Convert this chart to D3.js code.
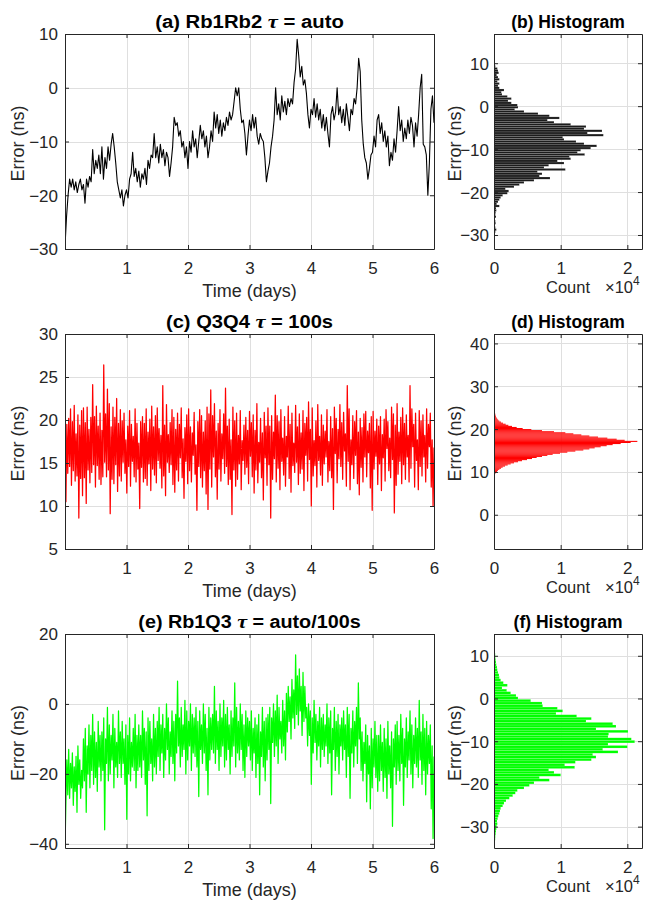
<!DOCTYPE html>
<html>
<head>
<meta charset="utf-8">
<script src="https://cdn.jsdelivr.net/npm/d3@7"></script>
<style>
  body { margin: 0; background: #fff; }
  svg { display: block; }
  text { font-family: "Liberation Sans", Arial, Helvetica, sans-serif; white-space: pre; }
</style>
</head>
<body>
<svg id="fig" width="645" height="903"></svg>
<script>
// ---------------- data ----------------
// Rb1Rb2 time error (ns), one sample every 0.025 days
const rb1rb2Step = 0.025;
const rb1rb2 = [
  -29.5,-24,-20,-17,-18.5,-17,-19,-17.5,-19.5,-18,-17,-19,-18,-21.5,-17,-18.5,-16.5,-17.5,-11.5,-16,
  -13.5,-15,-12.5,-16,-11,-17,-13,-15,-11,-13.5,-10.5,-8.5,-11,-14,-17.5,-19,-20.5,-19,-22,-20,
  -19,-20.5,-17,-16,-12,-16.5,-15,-17.5,-15.5,-18.5,-16,-17,-15,-18,-13.5,-15,-12.5,-13,-8.5,-13,
  -11,-14,-10.5,-13,-11.5,-14.5,-12,-13,-16.5,-14,-11,-5.5,-7,-6.5,-9,-8,-11,-10,-13,-11,
  -15,-10,-12,-8,-11,-9.5,-13,-10,-7,-9.5,-8,-11,-9,-13,-11,-8,-10,-4.5,-7.5,-5,
  -8.5,-6,-9,-6.5,-8,-5.5,-7,-4.5,-6,-5,-2.5,0,-1.5,0,-4,-6.5,-6,-8.5,-12.5,-9,
  -6,-8,-5,-7.5,-5.5,-9,-10.5,-8.5,-9.5,-10,-13,-17.5,-15.5,-14,-11,-9,-6,0,-5,-3,
  -6,-1.5,-4.5,-2.5,-5,-2,-3.5,-2,-3,1,3.5,9,6,2,4,0.5,1.5,-1,-5,-7.5,
  -4,-5,-2,-5.5,-3,-6,-4,-7.5,-5,-8,-5.5,-8.5,-11,-5,-3.5,-6,-4.5,0,-5,-3.5,
  -6.5,-4,-7,-3,-5.5,-8,-4,-5,-2,-3,0,5.5,3,-6,-10.5,-13,-14,-17,-15,-12.5,
  -12,-9,-11,-6,-5,-8.5,-6.5,-10,-8,-11,-9,-14.5,-12,-13.5,-9.5,-12,-8,-3.5,-8,-6,
  -10,-7.5,-9.5,-6,-8.5,-5.5,-7,-11,-6.5,-9,-5,0,2.5,-10.5,-11,-12.5,-20,-14,-4,-1.5,
  -6.5
];

// Q3Q4 time error (ns), one sample every 0.015 days
const q3q4Step = 0.015;
const q3q4 = [
  18.5,10.5,19.5,13.8,20.2,14.6,21.3,12.4,19.8,14.1,21.7,12.9,18.4,13.5,20.6,8.6,19.4,13.2,21.1,11.2,
  21.4,13.3,19.7,10.3,21.5,14.2,18.9,12.7,20.3,13.9,24.1,14.8,20.4,12.2,21.6,14.7,19.3,13.1,20.8,12.5,
  18.8,13.4,26.4,15.1,20.7,13.4,23.6,14.2,21.9,9.1,19.2,13.1,21.5,12.6,20.3,14.8,22.5,11.7,19.6,13.5,
  21.2,12.9,19.9,15.1,20.8,13.8,17.7,11.5,19.3,14.6,21.1,12.3,19.5,15.2,18.1,13.4,21.3,12.8,19.6,14.3,
  17.3,9.7,19.8,14.5,20.4,12.8,19.6,13.2,21.3,12.4,18.6,14.9,20.1,11.8,21.6,14.3,19.2,13.6,20.5,12.7,
  21.4,15.3,19.0,14.4,18.2,12.1,24.0,13.5,19.4,11.2,21.8,15.1,18.3,13.9,19.7,14.8,21.2,12.5,20.3,11.6,
  18.9,14.2,20.8,12.9,19.5,15.6,21.4,13.3,17.8,10.9,19.1,15.2,20.6,12.6,21.3,14.1,19.2,12.8,18.5,15.9,
  20.9,13.7,17.1,9.5,19.8,14.6,21.2,13.3,20.5,12.2,18.6,14.1,19.9,11.4,21.5,9.6,20.7,14.3,23.5,12.2,
  20.5,15.7,21.9,13.4,18.7,10.8,19.6,14.3,21.2,12.9,18.4,15.5,20.7,13.8,23.7,14.6,19.3,12.5,20.1,13.1,
  17.7,9.0,21.5,14.2,19.9,12.3,20.8,13.1,18.2,14.9,21.1,11.9,17.6,15.3,19.4,13.7,20.3,14.5,18.8,12.6,
  21.0,15.8,19.7,13.4,20.6,11.5,18.8,14.2,21.9,12.7,17.4,15.1,20.2,13.3,18.5,10.7,20.9,15.6,19.3,12.4,
  21.4,14.8,19.3,8.6,20.5,13.1,18.6,15.5,22.9,12.8,20.5,14.4,19.8,11.9,21.2,15.2,17.9,13.6,20.4,12.3,
  18.1,15.7,21.6,13.2,19.5,11.6,20.8,14.7,17.3,13.9,21.7,15.1,19.2,12.5,20.7,13.8,18.5,14.3,21.1,11.8,
  19.6,15.9,20.3,12.9,22.1,15.4,18.9,10.0,21.4,13.5,17.6,14.7,19.9,12.2,21.8,15.3,18.1,13.6,20.6,12.4,
  19.4,14.9,18.7,15.7,21.2,12.8,17.5,14.1,20.4,13.3,19.0,9.6,21.5,16.1,20.2,12.7,18.9,15.5,21.8,14.6,
  19.7,13.1,20.9,16.4,18.4,12.3,24.0,15.2,21.3,11.9,17.7,14.8,20.5,13.2,19.8,15.9,21.1,12.6,18.6,11.3,
  20.2,14.5,19.1,12.8,20.7,15.7,21.0,13.4,18.7,16.2,19.6,12.1,20.4,9.5,21.0,14.3,18.7,15.8,20.1,12.5,
  19.3,14.9,20.4,11.8,18.3,15.6,20.1,12.9,21.2,16.7,19.8,14.1,17.9,13.3,21.5,15.4,20.7,9.2,19.4,12.4,
  21.9,13.7,18.6,15.2,20.3,12.6,21.4,14.8,19.6,13.1,20.6,15.7,18.2,12.8,24.0,14.4,21.3,16.9,19.5,12.2,
  20.8,15.3,17.7,11.9,21.1,14.6,19.9,13.5,20.6,15.7,18.2,12.8,21.3,14.4,19.5,16.9,20.8,12.2,17.7,10.0,
  16.8
];

// Rb1Q3 time error (ns), one sample every 0.015 days
const rb1q3Step = 0.015;
const rb1q3 = [
  -41,-28,-16,-26,-13,-27,-17,-24,-14,-29,-18,-25,-15,-31,-12,-23,-16,-27,-19,-24,
  -10,-22,-7,-31,-12,-20,-6,-24,-9,-19,-3,-23,-8,-21,-11,-25,-5,-18,-9,-22,
  -8,-19,-4,-36,-10,-17,-1,-22,-6,-20,-9,-16,-3,-24,-7,-18,-11,-21,-2,-17,
  -8,-21,-5,-17,-10,-23,-6,-33,-9,-20,-4,-22,-11,-18,-7,-19,-3,-24,-9,-19,
  -6,-18,-9,-21,-2,-16,-7,-23,-8,-32,-4,-19,-5,-17,-10,-22,-3,-18,-7,-20,
  -5,-15,-1,-19,-6,-14,-3,-21,-7,-16,0,-13,-4,-20,-8,-15,-2,-17,-5,-22,
  -3,-14,6.5,-12,-4,-18,-1,-15,-6,-13,1,-20,-2,-16,-5,-12,0,-19,-3,-14,
  -4,-15,-1,-18,-5,-26.5,-2,-13,-6,-17,0,-14,-3,-19,-7,-26,-1,-16,-4,-13,
  -3,-14,5,-17,-2,-13,-5,-19,0,-15,-4,-12,1,-18,-3,-16,-1,-13,-6,-20,
  -2,-15,-4,-12,6,-18,-1,-14,-5,-16,0,-13,-3,-19,-6,-21,-2,-15,-4,-12,
  -5,-16,-2,-19,-7,-14,-4,-21,-6,-17,-3,-26,-8,-15,-1,-18,-5,-22,-4,-16,
  -3,-13,-1,-28.5,-4,-11,0,-15,-2,-12,2.5,-17,-1,-10,-5,-14,1,-12,-2,-16,
  3,-8,5,-5,2,-10,7,-4,4,-7,14,-3,8,-6,10,-2,5,-9,9,-5,
  5,-4,-1,-12,0,-9,-2,-23,-4,-14,1,-11,-3,-16,-5,-12,-1,-18,-4,-13,
  -3,-15,-6,-12,0,-17,-4,-14,-2,-26,-7,-13,-1,-19,-5,-15,-3,-20,-6,-12,
  -4,-16,-2,-13,-6,-21,-1,-15,-3,-27,-7,-14,-2,-18,-5,-12,-1,-17,6,-10,
  -4,-19,-8,-22,-11,-17,-6,-28,-9,-20,-12,-30,-7,-24,-10,-18,-5,-21,-9,-25,
  -9,-22,-6,-19,-11,-25,-7,-21,-10,-27,-5,-20,-12,-24,-8,-35,-10,-18,-6,-23,
  -5,-19,-9,-22,-3,-17,-7,-29,-10,-18,-4,-21,-8,-16,-2,-20,-6,-24,-9,-17,
  -4,-18,-7,-21,1,-16,-8,-23,-3,-19,-7,-26,-5,-20,-9,-17,-6,-30,-12,-38.5,
  -15
];

// Histogram of Rb1Rb2: bins of 0.5 ns starting at -30 ns, counts in units of 1e4
const histRb1Rb2Start = -30, histRb1Rb2Width = 0.5;
const histRb1Rb2 = [
  0.005,0.02,0.035,0.02,0.015,0.025,0.02,0.015,0.03,0.02,0.025,
  0.035,0.03,0.08,0.04,0.06,0.08,0.1,0.13,0.2,0.22,
  0.17,0.3,0.38,0.45,0.6,0.84,0.68,0.72,0.65,1.07,
  0.75,0.82,1.05,0.95,1.15,1.13,1.36,1.25,1.3,1.45,
  1.54,1.35,1.23,1.05,1.03,1.64,1.4,1.62,1.35,1.38,
  1.15,0.9,0.8,0.98,0.83,0.66,0.45,0.31,0.36,0.35,
  0.26,0.21,0.26,0.2,0.12,0.11,0.15,0.08,0.06,0.08,
  0.05,0.08,0.06,0.04,0.07,0.06,0.05,0.02
];

// Histogram of Q3Q4: bins of 0.25 ns starting at 8.5 ns, counts in units of 1e4
const histQ3Q4Start = 8.5, histQ3Q4Width = 0.25;
const histQ3Q4 = [
  0.004,0.006,0.010,0.014,0.020,0.030,0.045,0.060,0.080,0.105,
  0.130,0.165,0.205,0.250,0.300,0.360,0.420,0.495,0.570,0.640,
  0.720,0.800,0.880,0.990,1.100,1.220,1.340,1.430,1.510,1.600,
  1.690,1.780,1.900,2.050,2.150,1.960,1.840,1.700,1.560,1.430,
  1.310,1.190,1.070,0.900,0.720,0.560,0.430,0.340,0.270,0.215,
  0.175,0.135,0.105,0.080,0.062,0.048,0.038,0.030,0.024,0.020,
  0.017,0.014,0.012,0.010,0.009,0.008,0.007,0.006,0.005,0.004,
  0.004,0.003,0.002,0.002
];

// Histogram of Rb1Q3: bins of 0.6 ns starting at -35 ns, counts in units of 1e4
const histRb1Q3Start = -35, histRb1Q3Width = 0.6;
const histRb1Q3 = [
  0.005,0.01,0.012,0.018,0.02,0.025,0.03,0.035,0.04,0.05,
  0.045,0.055,0.065,0.08,0.09,0.1,0.13,0.15,0.18,0.23,
  0.28,0.32,0.35,0.45,0.53,0.6,
  0.83,0.68,1.0,0.9,0.82,1.21,1.06,1.22,1.46,1.53,
  1.48,1.86,1.63,2.0,1.71,2.11,2.06,1.71,1.72,2.01,
  1.53,1.83,1.78,1.38,1.46,1.24,0.93,1.03,0.95,0.73,
  0.72,0.55,0.36,0.33,0.25,0.19,0.12,0.2,0.14,0.1,
  0.08,0.075,0.06,0.05,0.045,0.035,0.03,0.025,0.02,0.018,
  0.015,0.012,0.01,0.008,0.006,0.005
];

// axis ticks
const timeTicks = [1, 2, 3, 4, 5, 6];
const countTicks = [0, 1, 2];
const ticksA = [-30, -20, -10, 0, 10];
const ticksB = [-30, -20, -10, 0, 10];
const ticksC = [5, 10, 15, 20, 25, 30];
const ticksD = [0, 10, 20, 30, 40];
const ticksE = [-40, -20, 0, 20];
const ticksF = [-30, -20, -10, 0, 10];

// ---------------- layout ----------------
const LEFT = [65, 434], RIGHT = [494, 642];
const ROWS = [[34, 249], [334, 549], [634, 848]];
const AXC = "#262626", GRIDC = "#dfdfdf";
const TICKFS = 17, LABELFS = 18, TITLEFS = 17.5;

const svg = d3.select("#fig");
const defs = svg.append("defs");

const panels = [
  { id: "a", kind: "line", xr: LEFT, yr: ROWS[0], values: rb1rb2, step: rb1rb2Step, color: "#000000", width: 1.1,
    yDomain: [-30, 10], yTicks: ticksA, title: ["(a) Rb1Rb2 ", "τ", " = auto"], titleStretch: 1.16 },
  { id: "b", kind: "hist", xr: RIGHT, yr: ROWS[0], counts: histRb1Rb2, start: histRb1Rb2Start, bw: histRb1Rb2Width,
    color: "#1c1c1c", edge: 0.35, yDomain: [-33.26, 16.8], yTicks: ticksB, title: ["(b) Histogram"], titleStretch: 1 },
  { id: "c", kind: "line", xr: LEFT, yr: ROWS[1], values: q3q4, step: q3q4Step, color: "#ff0000", width: 1.25,
    yDomain: [5, 30], yTicks: ticksC, title: ["(c) Q3Q4 ", "τ", " = 100s"], titleStretch: 1.15 },
  { id: "d", kind: "hist", xr: RIGHT, yr: ROWS[1], counts: histQ3Q4, start: histQ3Q4Start, bw: histQ3Q4Width,
    color: "#ff0000", edge: 0, yDomain: [-8, 42.2], yTicks: ticksD, title: ["(d) Histogram"], titleStretch: 1 },
  { id: "e", kind: "line", xr: LEFT, yr: ROWS[2], values: rb1q3, step: rb1q3Step, color: "#00ff00", width: 1.25,
    yDomain: [-41.2, 20], yTicks: ticksE, title: ["(e) Rb1Q3 ", "τ", " = auto/100s"], titleStretch: 1.13 },
  { id: "f", kind: "hist", xr: RIGHT, yr: ROWS[2], counts: histRb1Q3, start: histRb1Q3Start, bw: histRb1Q3Width,
    color: "#00ff00", edge: 0.35, yDomain: [-35, 15.1], yTicks: ticksF, title: ["(f) Histogram"], titleStretch: 1 }
];

panels.forEach(drawPanel);

function drawPanel(p) {
  const [x0, x1] = p.xr, [y0, y1] = p.yr;
  const isLine = p.kind === "line";
  const x = d3.scaleLinear().domain(isLine ? [0, 6] : [0, 2.22]).range([x0, x1]);
  const y = d3.scaleLinear().domain(p.yDomain).range([y1, y0]);
  const xTicks = isLine ? timeTicks : countTicks;
  const g = svg.append("g");

  // background
  g.append("rect").attr("x", x0).attr("y", y0).attr("width", x1 - x0).attr("height", y1 - y0).attr("fill", "#fff");

  // grid
  const grid = g.append("g").attr("stroke", GRIDC).attr("stroke-width", 1);
  grid.selectAll("line.vx").data(xTicks).join("line").attr("class", "vx")
    .attr("x1", d => Math.round(x(d)) + 0.5).attr("x2", d => Math.round(x(d)) + 0.5)
    .attr("y1", y0).attr("y2", y1);
  grid.selectAll("line.hy").data(p.yTicks).join("line").attr("class", "hy")
    .attr("y1", d => Math.round(y(d)) + 0.5).attr("y2", d => Math.round(y(d)) + 0.5)
    .attr("x1", x0).attr("x2", x1);

  // data
  const clipId = "clip-" + p.id;
  defs.append("clipPath").attr("id", clipId).append("rect")
    .attr("x", x0).attr("y", y0).attr("width", x1 - x0 + 1).attr("height", y1 - y0 + 1);
  const dg = g.append("g").attr("clip-path", `url(#${clipId})`);

  if (isLine) {
    const line = d3.line().x((d, i) => x(i * p.step)).y(d => y(d));
    dg.append("path").datum(p.values).attr("d", line)
      .attr("fill", "none").attr("stroke", p.color).attr("stroke-width", p.width)
      .attr("stroke-linejoin", "round");
  } else {
    const bars = dg.selectAll("rect").data(p.counts).join("rect")
      .attr("x", x(0))
      .attr("y", (d, i) => y(p.start + (i + 1) * p.bw))
      .attr("width", d => x(d) - x(0))
      .attr("height", (d, i) => y(p.start + i * p.bw) - y(p.start + (i + 1) * p.bw))
      .attr("fill", p.color);
    if (p.edge > 0) bars.attr("stroke", "#ffffff").attr("stroke-opacity", p.edge).attr("stroke-width", 0.4);
  }

  // axes (ticks pointing inwards, box on)
  const fmt = d3.format("d");
  const bottom = g.append("g").attr("transform", `translate(0,${y1})`)
    .call(d3.axisBottom(x).tickValues(xTicks).tickSizeInner(-4).tickSizeOuter(0).tickPadding(13).tickFormat(fmt));
  const top = g.append("g").attr("transform", `translate(0,${y0})`)
    .call(d3.axisTop(x).tickValues(xTicks).tickSizeInner(-4).tickSizeOuter(0).tickFormat(""));
  const left = g.append("g").attr("transform", `translate(${x0},0)`)
    .call(d3.axisLeft(y).tickValues(p.yTicks).tickSizeInner(-4).tickSizeOuter(0).tickPadding(isLine ? 7 : 5).tickFormat(fmt));
  const right = g.append("g").attr("transform", `translate(${x1},0)`)
    .call(d3.axisRight(y).tickValues(p.yTicks).tickSizeInner(-4).tickSizeOuter(0).tickFormat(""));

  [bottom, top, left, right].forEach(a => {
    a.select(".domain").attr("stroke", AXC).attr("stroke-width", 1);
    a.selectAll(".tick line").attr("stroke", AXC);
    a.selectAll(".tick text").attr("fill", AXC)
      .attr("font-family", '"Liberation Sans", Arial, sans-serif').attr("font-size", TICKFS);
    a.attr("font-family", null).attr("font-size", null);
  });
  bottom.selectAll(".tick text").attr("dy", "0.71em");
  left.selectAll(".tick text").attr("dy", "0.35em");

  const cx = (x0 + x1) / 2, cy = (y0 + y1) / 2;

  // title
  const t = g.append("text").attr("transform", `translate(${cx},${y0 - 6}) scale(${p.titleStretch},1)`)
    .attr("text-anchor", "middle")
    .attr("font-size", TITLEFS).attr("font-weight", "bold").attr("fill", "#000");
  p.title.forEach(s => {
    const ts = t.append("tspan").text(s);
    if (s === "τ") ts.attr("font-family", '"Liberation Serif", "DejaVu Serif", serif').attr("font-style", "italic").attr("font-size", TITLEFS + 2);
  });

  // y label
  g.append("text").attr("transform", `translate(${isLine ? x0 - 41 : x0 - 33},${cy + 2}) rotate(-90)`)
    .attr("text-anchor", "middle").attr("font-size", LABELFS).attr("fill", AXC).text("Error (ns)");

  // x label
  if (isLine) {
    g.append("text").attr("x", cx).attr("y", y1 + 48).attr("text-anchor", "middle")
      .attr("font-size", LABELFS).attr("fill", AXC).text("Time (days)");
  } else {
    g.append("text").attr("x", cx).attr("y", y1 + 44).attr("text-anchor", "middle")
      .attr("font-size", 16.5).attr("fill", AXC).text("Count");
    const m = g.append("text").attr("x", x1 - 37).attr("y", y1 + 44).attr("font-size", TICKFS - 0.5).attr("fill", AXC);
    m.append("tspan").text("×10");
    m.append("tspan").attr("font-size", 12).attr("dy", -8).text("4");
  }
}
</script>
</body>
</html>
